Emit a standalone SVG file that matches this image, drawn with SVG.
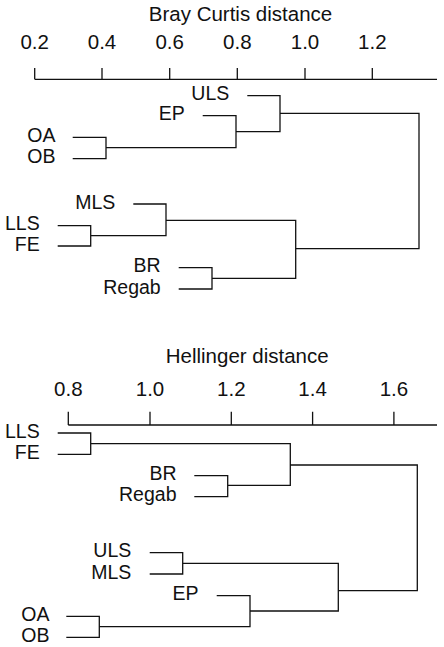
<svg xmlns="http://www.w3.org/2000/svg" width="444" height="647" viewBox="0 0 444 647">
<style>
text{font-family:"Liberation Sans",Arial,sans-serif;font-size:20.5px;fill:#111}
.lbl{text-anchor:end;font-size:19.5px}
.mid{text-anchor:middle}
.ln{fill:none;stroke:#111;stroke-width:1.3}
</style>
<rect width="444" height="647" fill="#fff"/>
<g id="axis-top">
<text class="mid" x="240.5" y="20.5">Bray Curtis distance</text>
<text class="mid" x="34.7" y="49.3">0.2</text>
<text class="mid" x="102" y="49.3">0.4</text>
<text class="mid" x="169.7" y="49.3">0.6</text>
<text class="mid" x="237.3" y="49.3">0.8</text>
<text class="mid" x="305" y="49.3">1.0</text>
<text class="mid" x="372.3" y="49.3">1.2</text>
<path class="ln" d="M34.7 68V79.3M102 68V79.3M169.7 68V79.3M237.3 68V79.3M305 68V79.3M372.3 68V79.3M34.7 79.3H437"/>
</g>
<g id="bc-ULS"><text class="lbl" x="229.3" y="100">ULS</text></g>
<g id="bc-EP"><text class="lbl" x="184.7" y="120">EP</text></g>
<g id="bc-OA"><text class="lbl" x="55.5" y="141.8">OA</text></g>
<g id="bc-OB"><text class="lbl" x="55.5" y="163.2">OB</text></g>
<g id="bc-MLS"><text class="lbl" x="115.3" y="208.5">MLS</text></g>
<g id="bc-LLS"><text class="lbl" x="39.7" y="230.2">LLS</text></g>
<g id="bc-FE"><text class="lbl" x="39.7" y="250.5">FE</text></g>
<g id="bc-BR"><text class="lbl" x="160.7" y="272.2">BR</text></g>
<g id="bc-Regab"><text class="lbl" x="160.7" y="293.5">Regab</text></g>
<g id="axis-bottom">
<text class="mid" x="247.2" y="363.3">Hellinger distance</text>
<text class="mid" x="68.3" y="395.5">0.8</text>
<text class="mid" x="150" y="395.5">1.0</text>
<text class="mid" x="231.3" y="396">1.2</text>
<text class="mid" x="312.6" y="396">1.4</text>
<text class="mid" x="393.9" y="395.5">1.6</text>
<path class="ln" d="M68.3 411.7V425M150 411.7V425M231.3 411.7V425M312.6 411.7V425M393.9 411.7V425M68.3 425H437"/>
</g>
<g id="h-LLS"><text class="lbl" x="39.7" y="437.5">LLS</text></g>
<g id="h-FE"><text class="lbl" x="39.7" y="458.8">FE</text></g>
<g id="h-BR"><text class="lbl" x="176.5" y="480.2">BR</text></g>
<g id="h-Regab"><text class="lbl" x="176.5" y="501.2">Regab</text></g>
<g id="h-ULS"><text class="lbl" x="131.3" y="557.2">ULS</text></g>
<g id="h-MLS"><text class="lbl" x="131.3" y="578.5">MLS</text></g>
<g id="h-EP"><text class="lbl" x="198.5" y="600.2">EP</text></g>
<g id="h-OA"><text class="lbl" x="49.5" y="620.8">OA</text></g>
<g id="h-OB"><text class="lbl" x="49.5" y="641.8">OB</text></g>
<g id="connectors">
<path class="ln" d="M247.3 95.7H280V131.7H236M202.7 115.7H236V147.7H106M72.7 137.3H106V158.7H72.7M280 113.3H419V248.7H295.7"/>
<path class="ln" d="M133.3 204H166V235.7H90.7M57.7 225.7H90.7V246H57.7M166 220.3H295.7V278.3H212M178.7 267.7H212V289H178.7"/>
<path class="ln" d="M57.7 433H90.7V454.3H57.7M90.7 443.7H290.3V485.3H227.7M194.3 475.7H227.7V496.7H194.3M290.3 465H417.3V590.7H338.3"/>
<path class="ln" d="M149.7 552.7H182.7V574H149.7M182.7 563.3H338.3V611H250M216.7 595.7H250V626.7H99.3M66.3 616.3H99.3V637.3H66.3"/>
</g>
</svg>
